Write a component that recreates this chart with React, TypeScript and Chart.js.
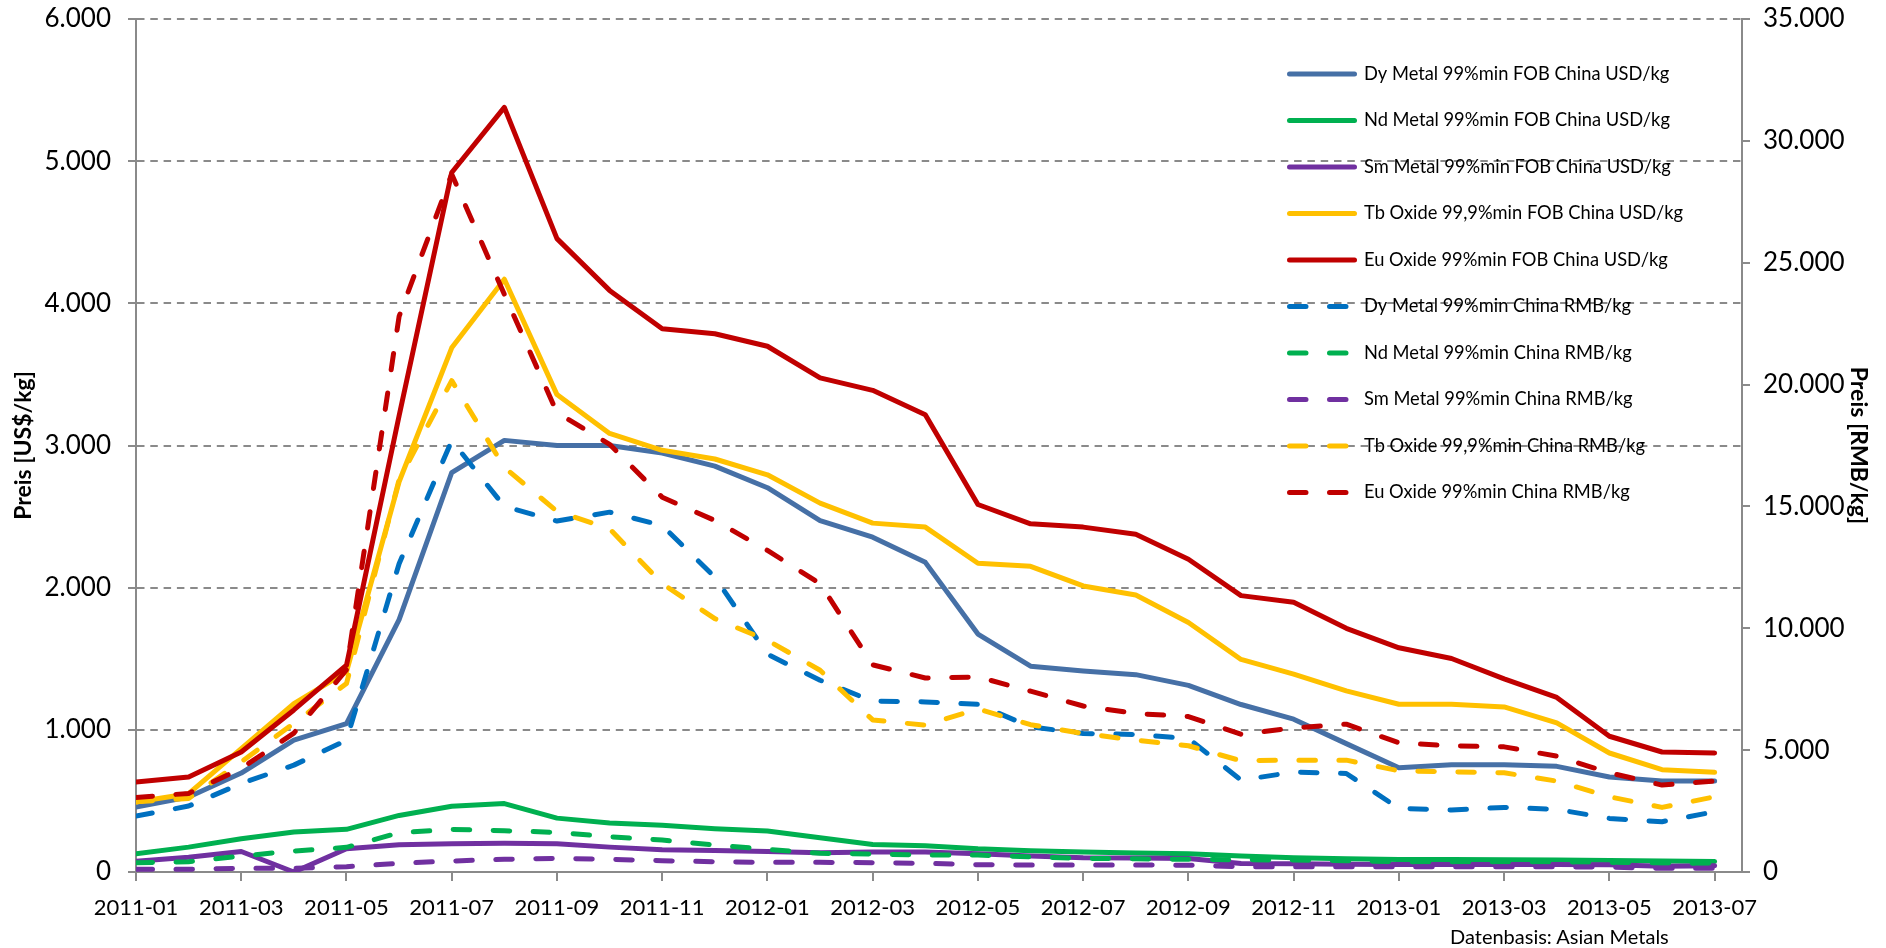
import React, { useEffect, useRef } from 'react';
import { Chart, registerables } from 'chart.js';

Chart.register(...registerables);

const MONTHS = [
  '2011-01', '2011-02', '2011-03', '2011-04', '2011-05', '2011-06', '2011-07', '2011-08', '2011-09', '2011-10', '2011-11', '2011-12',
  '2012-01', '2012-02', '2012-03', '2012-04', '2012-05', '2012-06', '2012-07', '2012-08', '2012-09', '2012-10', '2012-11', '2012-12',
  '2013-01', '2013-02', '2013-03', '2013-04', '2013-05', '2013-06', '2013-07',
];

// US$/kg (left axis)
const DY_USD = [457, 527, 696, 927, 1044, 1775, 2810, 3036, 3000, 3000, 2947, 2855, 2703, 2472, 2355, 2178, 1674, 1448, 1414, 1388, 1313, 1178, 1075, 903, 734, 755, 755, 743, 668, 640, 640];
const ND_USD = [128, 175, 234, 281, 300, 398, 462, 481, 379, 344, 328, 304, 288, 241, 194, 185, 163, 150, 140, 134, 128, 112, 100, 94, 88, 88, 87, 84, 81, 77, 74];
const SM_USD = [76, 104, 144, 0, 163, 192, 199, 203, 199, 175, 156, 152, 144, 135, 140, 140, 128, 112, 100, 98, 95, 60, 58, 55, 53, 53, 53, 52, 51, 41, 44];
const TB_USD = [492, 551, 868, 1185, 1408, 2745, 3687, 4170, 3358, 3085, 2966, 2905, 2794, 2595, 2454, 2426, 2172, 2150, 2012, 1948, 1755, 1495, 1392, 1274, 1180, 1180, 1161, 1049, 837, 720, 701];
const EU_USD = [633, 668, 844, 1140, 1455, 3210, 4920, 5378, 4455, 4091, 3821, 3786, 3698, 3476, 3388, 3217, 2585, 2449, 2426, 2376, 2200, 1944, 1897, 1714, 1577, 1502, 1359, 1228, 955, 844, 837];

// RMB/kg (right axis)
const DY_RMB = [2295, 2705, 3634, 4385, 5409, 12650, 17700, 15000, 14400, 14765, 14220, 12100, 8934, 7868, 7008, 6980, 6880, 5955, 5684, 5643, 5480, 3770, 4098, 4043, 2610, 2541, 2651, 2569, 2200, 2063, 2473];
const ND_RMB = [381, 422, 656, 861, 1011, 1612, 1748, 1694, 1626, 1448, 1311, 1106, 929, 765, 738, 697, 697, 620, 560, 540, 519, 500, 492, 460, 422, 422, 422, 410, 396, 370, 355];
const SM_RMB = [109, 109, 150, 150, 219, 355, 451, 519, 560, 519, 464, 422, 396, 396, 382, 355, 300, 287, 287, 287, 280, 216, 216, 216, 216, 216, 216, 216, 200, 150, 150];
const TB_RMB = [2881, 3020, 4520, 6100, 7733, 16100, 20162, 16600, 14800, 14084, 11831, 10397, 9507, 8278, 6240, 6024, 6690, 6045, 5684, 5409, 5180, 4562, 4590, 4590, 4152, 4111, 4070, 3729, 3086, 2651, 3086];
const EU_RMB = [3061, 3225, 4250, 5700, 8300, 22800, 28633, 23700, 18850, 17550, 15380, 14425, 13196, 11831, 8500, 7960, 8004, 7420, 6810, 6502, 6380, 5655, 5914, 6065, 5299, 5176, 5135, 4754, 4070, 3565, 3729];

const LABELS = [
  'Dy Metal 99%min FOB China USD/kg',
  'Nd Metal 99%min FOB China USD/kg',
  'Sm Metal 99%min FOB China USD/kg',
  'Tb Oxide 99,9%min FOB China USD/kg',
  'Eu Oxide 99%min FOB China USD/kg',
  'Dy Metal 99%min China RMB/kg',
  'Nd Metal 99%min China RMB/kg',
  'Sm Metal 99%min China RMB/kg',
  'Tb Oxide 99,9%min China RMB/kg',
  'Eu Oxide 99%min China RMB/kg',
];

const COLORS = ['#4670A6', '#00B050', '#7030A0', '#FFC000', '#C00000', '#0070C0', '#00B050', '#7030A0', '#FFC000', '#C00000'];
const SERIES = [DY_USD, ND_USD, SM_USD, TB_USD, EU_USD, DY_RMB, ND_RMB, SM_RMB, TB_RMB, EU_RMB];

const FONT = 'Lato';
const GRID = '#8a8a8a';
const DASH = [16.5, 23.5];
const LINE_W = 5;

const fmt = (v: number) => String(Math.round(v)).replace(/\B(?=(\d{3})+(?!\d))/g, '.');

const legendPlugin = {
  id: 'insideLegend',
  afterDatasetsDraw(chart: any) {
    const ctx = chart.ctx as CanvasRenderingContext2D;
    const x0 = 1287;
    const x1 = 1357;
    const tx = 1364;
    const y0 = 74;
    const dy = 46.5;
    ctx.save();
    chart.data.datasets.forEach((ds: any, k: number) => {
      const y = y0 + k * dy;
      ctx.beginPath();
      ctx.strokeStyle = ds.borderColor;
      ctx.lineWidth = LINE_W;
      ctx.lineCap = 'round';
      ctx.setLineDash(ds.borderDash || []);
      ctx.moveTo(x0 + LINE_W / 2, y);
      ctx.lineTo(x1 - LINE_W / 2, y);
      ctx.stroke();
      ctx.setLineDash([]);
      ctx.fillStyle = '#000';
      ctx.font = `18.3px ${FONT}`;
      ctx.textAlign = 'left';
      ctx.textBaseline = 'middle';
      ctx.fillText(ds.label, tx, y);
    });
    ctx.restore();
  },
};

const noVPad = (w: number) => (s: any) => {
  s.width = w;
  s.paddingTop = 0;
  s.paddingBottom = 0;
};

export default function App() {
  const ref = useRef<HTMLCanvasElement | null>(null);

  useEffect(() => {
    document.body.style.margin = '0';
    Chart.defaults.font.family = FONT;
    const datasets = SERIES.map((values, k) => {
      const dashed = k >= 5;
      return {
        label: LABELS[k],
        data: values.map((v, i) => ({ x: i, y: v })),
        borderColor: COLORS[k],
        backgroundColor: COLORS[k],
        borderWidth: LINE_W,
        borderDash: dashed ? DASH : [],
        borderCapStyle: 'round' as const,
        borderJoinStyle: 'round' as const,
        pointRadius: 0,
        pointHoverRadius: 0,
        tension: 0,
        fill: false,
        yAxisID: dashed ? 'y2' : 'y',
        order: 10 - k,
      };
    });

    const chart = new Chart(ref.current as HTMLCanvasElement, {
      type: 'line',
      data: { datasets },
      plugins: [legendPlugin],
      options: {
        responsive: false,
        animation: false,
        devicePixelRatio: 1,
        layout: { padding: { top: 19, left: 0, right: 0, bottom: 0 } },
        plugins: {
          legend: { display: false },
          tooltip: { enabled: false },
        },
        scales: {
          x: {
            type: 'linear',
            min: 0,
            max: 30.52,
            ticks: {
              stepSize: 2,
              includeBounds: false,
              autoSkip: false,
              maxRotation: 0,
              minRotation: 0,
              padding: 14,
              color: '#000',
              font: { size: 22 },
              callback: (v: any) => MONTHS[Number(v)] ?? '',
            },
            grid: { drawOnChartArea: false, tickLength: 9, color: GRID, lineWidth: 2 },
            border: { color: GRID, width: 2 },
            afterFit: (s: any) => { s.height = 76; },
          },
          y: {
            position: 'left',
            min: 0,
            max: 6000,
            ticks: { stepSize: 1000, padding: 17, color: '#000', font: { size: 26 }, callback: (v: any) => fmt(Number(v)) },
            grid: { color: GRID, lineWidth: 2, tickLength: 8, tickColor: GRID },
            border: { color: GRID, width: 2, dash: [7.5, 5.8] },
            title: { display: true, text: 'Preis [US$/kg]', color: '#000', font: { size: 23, weight: 'bold' }, padding: { top: 10, bottom: 0 } },
            afterFit: noVPad(136),
          },
          y2: {
            position: 'right',
            min: 0,
            max: 35000,
            ticks: { stepSize: 5000, padding: 13, color: '#000', font: { size: 26 }, callback: (v: any) => fmt(Number(v)) },
            grid: { drawOnChartArea: false, tickLength: 8, color: GRID, lineWidth: 2 },
            border: { color: GRID, width: 2 },
            title: { display: true, text: 'Preis [RMB/kg]', color: '#000', font: { size: 23, weight: 'bold' }, padding: { top: 14, bottom: 0 } },
            afterFit: noVPad(144),
          },
        },
      } as any,
    });
    return () => chart.destroy();
  }, []);

  return (
    <div style={{ position: 'relative', width: 1886, height: 948, overflow: 'hidden', background: '#fff' }}>
      <canvas ref={ref} width={1886} height={948} style={{ display: 'block', width: 1886, height: 948 }} />
      <div style={{ position: 'absolute', left: 1450, top: 924, fontFamily: FONT, fontSize: 20, lineHeight: '24px', color: '#000', whiteSpace: 'nowrap' }}>
        Datenbasis: Asian Metals
      </div>
    </div>
  );
}
